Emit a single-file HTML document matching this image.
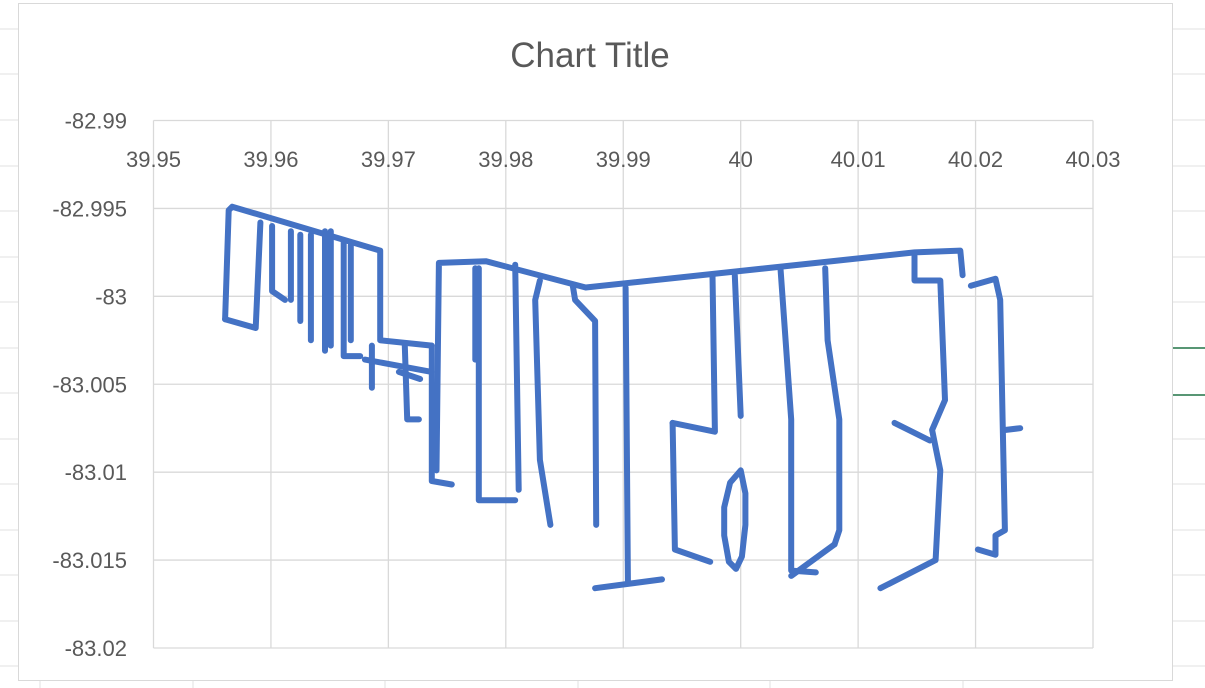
<!DOCTYPE html>
<html><head><meta charset="utf-8"><style>
body{margin:0;width:1205px;height:688px;background:#fff;overflow:hidden;font-family:"Liberation Sans",sans-serif}
</style></head><body>
<svg id="s" width="1205" height="688" style="position:absolute;left:0;top:0">
<g stroke="#e0e0e0" stroke-width="1">
<line x1="0" y1="29" x2="18" y2="29"/><line x1="0" y1="74" x2="18" y2="74"/><line x1="0" y1="120" x2="18" y2="120"/><line x1="0" y1="166" x2="18" y2="166"/><line x1="0" y1="211" x2="18" y2="211"/><line x1="0" y1="257" x2="18" y2="257"/><line x1="0" y1="302" x2="18" y2="302"/><line x1="0" y1="348" x2="18" y2="348"/><line x1="0" y1="393" x2="18" y2="393"/><line x1="0" y1="439" x2="18" y2="439"/><line x1="0" y1="484" x2="18" y2="484"/><line x1="0" y1="530" x2="18" y2="530"/><line x1="0" y1="575" x2="18" y2="575"/><line x1="0" y1="621" x2="18" y2="621"/><line x1="0" y1="666" x2="18" y2="666"/>
<line x1="1172" y1="29" x2="1205" y2="29"/><line x1="1172" y1="74" x2="1205" y2="74"/><line x1="1172" y1="120" x2="1205" y2="120"/><line x1="1172" y1="166" x2="1205" y2="166"/><line x1="1172" y1="211" x2="1205" y2="211"/><line x1="1172" y1="257" x2="1205" y2="257"/><line x1="1172" y1="302" x2="1205" y2="302"/><line x1="1172" y1="439" x2="1205" y2="439"/><line x1="1172" y1="484" x2="1205" y2="484"/><line x1="1172" y1="530" x2="1205" y2="530"/><line x1="1172" y1="575" x2="1205" y2="575"/><line x1="1172" y1="621" x2="1205" y2="621"/><line x1="1172" y1="666" x2="1205" y2="666"/>
<line x1="40" y1="680" x2="40" y2="688"/><line x1="193" y1="680" x2="193" y2="688"/><line x1="385" y1="680" x2="385" y2="688"/><line x1="578" y1="680" x2="578" y2="688"/><line x1="770" y1="680" x2="770" y2="688"/><line x1="963" y1="680" x2="963" y2="688"/>
</g>
<line x1="1165" y1="348" x2="1205" y2="348" stroke="#217346" stroke-width="1.5"/>
<line x1="1165" y1="395" x2="1205" y2="395" stroke="#217346" stroke-width="1.5"/>
<rect x="18.5" y="3.5" width="1154" height="677" fill="#fff" stroke="#d9d9d9"/>
<text x="590" y="67" text-anchor="middle" font-size="35" fill="#595959">Chart Title</text>
<g id="grid"></g>
<g id="xl"></g>
<g id="yl"></g>
<g id="series"></g>
</svg>
<script>
const xTicks=[39.95,39.96,39.97,39.98,39.99,40,40.01,40.02,40.03];
const xTickLabels=["39.95","39.96","39.97","39.98","39.99","40","40.01","40.02","40.03"];
const yTicks=[-82.99,-82.995,-83,-83.005,-83.01,-83.015,-83.02];
const yTickLabels=["-82.99","-82.995","-83","-83.005","-83.01","-83.015","-83.02"];
const tracks=[
[[39.9561,-83.0013],[39.9564,-82.9951],[39.9567,-82.9949],[39.9693,-82.9974],[39.9693,-83.0025],[39.9737,-83.0028]],
[[39.9561,-83.0013],[39.9587,-83.0018],[39.9591,-82.9958]],
[[39.9601,-82.9960],[39.9601,-82.9997],[39.9612,-83.0002]],
[[39.9617,-82.9963],[39.9617,-83.0002]],
[[39.9625,-82.9965],[39.9625,-83.0014]],
[[39.9634,-82.9965],[39.9634,-83.0025]],
[[39.9646,-82.9963],[39.9646,-83.0031]],
[[39.9651,-82.9963],[39.9651,-83.0028]],
[[39.9662,-82.9968],[39.9662,-83.0034],[39.9676,-83.0034]],
[[39.9668,-82.9971],[39.9668,-83.0025]],
[[39.9680,-83.0036],[39.9737,-83.0043]],
[[39.9686,-83.0028],[39.9686,-83.0052]],
[[39.9709,-83.0043],[39.9727,-83.0047]],
[[39.9714,-83.0028],[39.9716,-83.0070],[39.9726,-83.0070]],
[[39.9737,-83.0028],[39.9737,-83.0105],[39.9754,-83.0107]],
[[39.9741,-83.0099],[39.9743,-82.9981],[39.9783,-82.9980],[39.9868,-82.9995],[40.0148,-82.9975],[40.0187,-82.9974],[40.0189,-82.9988]],
[[39.9774,-82.9984],[39.9774,-83.0036]],
[[39.9777,-82.9984],[39.9777,-83.0116],[39.9808,-83.0116]],
[[39.9808,-82.9982],[39.9811,-83.0110]],
[[39.9829,-82.9991],[39.9825,-83.0002],[39.9829,-83.0093],[39.9838,-83.0130]],
[[39.9857,-82.9994],[39.9859,-83.0002],[39.9876,-83.0014],[39.9877,-83.0130]],
[[39.9902,-82.9995],[39.9904,-83.0162]],
[[39.9876,-83.0166],[39.9933,-83.0161]],
[[39.9942,-83.0072],[39.9944,-83.0144],[39.9974,-83.0151]],
[[39.9942,-83.0072],[39.9978,-83.0077],[39.9976,-82.9988]],
[[39.9995,-82.9988],[40.0000,-83.0068]],
[[40.0000,-83.0099],[39.9991,-83.0106],[39.9986,-83.0120],[39.9986,-83.0136],[39.9990,-83.0151],[39.9996,-83.0155],[40.0001,-83.0148],[40.0004,-83.0130],[40.0004,-83.0112],[40.0000,-83.0099]],
[[40.0034,-82.9985],[40.0043,-83.0070],[40.0043,-83.0156],[40.0064,-83.0157]],
[[40.0043,-83.0159],[40.0080,-83.0141]],
[[40.0072,-82.9984],[40.0074,-83.0025],[40.0084,-83.0070],[40.0084,-83.0133],[40.0080,-83.0141]],
[[40.0148,-82.9977],[40.0148,-82.9991],[40.0170,-82.9991],[40.0174,-83.0059],[40.0163,-83.0076],[40.0170,-83.0099],[40.0166,-83.0150],[40.0119,-83.0166]],
[[40.0131,-83.0072],[40.0161,-83.0082]],
[[40.0196,-82.9994],[40.0217,-82.9990],[40.0221,-83.0002],[40.0223,-83.0070],[40.0225,-83.0133],[40.0217,-83.0136],[40.0217,-83.0147],[40.0202,-83.0144]],
[[40.0225,-83.0076],[40.0238,-83.0075]]
];
const X0=153.5,X1=1093,Y0=120.5,Y1=648;
const xs=v=>X0+(v-39.95)/(40.03-39.95)*(X1-X0);
const ys=v=>Y0+(-82.99-v)/(0.03)*(Y1-Y0);
const NS="http://www.w3.org/2000/svg";
function mk(t,p,a){const e=document.createElementNS(NS,t);for(const k in a)e.setAttribute(k,a[k]);p.appendChild(e);return e;}
const grid=document.getElementById('grid'),xl=document.getElementById('xl'),yl=document.getElementById('yl'),ser=document.getElementById('series');
xTicks.forEach((v,i)=>{
 const l=mk('line',grid,{x1:xs(v),x2:xs(v),y1:Y0,y2:Y1,stroke:'#d9d9d9','stroke-width':1.3});
 
 
 const t=mk('text',xl,{x:xs(v),y:167,'text-anchor':'middle','font-size':22,fill:'#595959'});
 t.textContent=xTickLabels[i];
 
 
});
yTicks.forEach((v,i)=>{
 const l=mk('line',grid,{x1:X0,x2:X1,y1:ys(v),y2:ys(v),stroke:'#d9d9d9','stroke-width':1.3});
 
 
 const t=mk('text',yl,{x:127,y:ys(v)+8,'text-anchor':'end','font-size':22,fill:'#595959'});
 t.textContent=yTickLabels[i];
 
 
});
tracks.forEach(tr=>{
 const pts=tr.map(p=>xs(p[0]).toFixed(1)+','+ys(p[1]).toFixed(1)).join(' ');
 const pl=mk('polyline',ser,{points:pts,fill:'none',stroke:'#4472C4','stroke-width':6,'stroke-linejoin':'round','stroke-linecap':'round'});
 
 
});
</script>
</body></html>
